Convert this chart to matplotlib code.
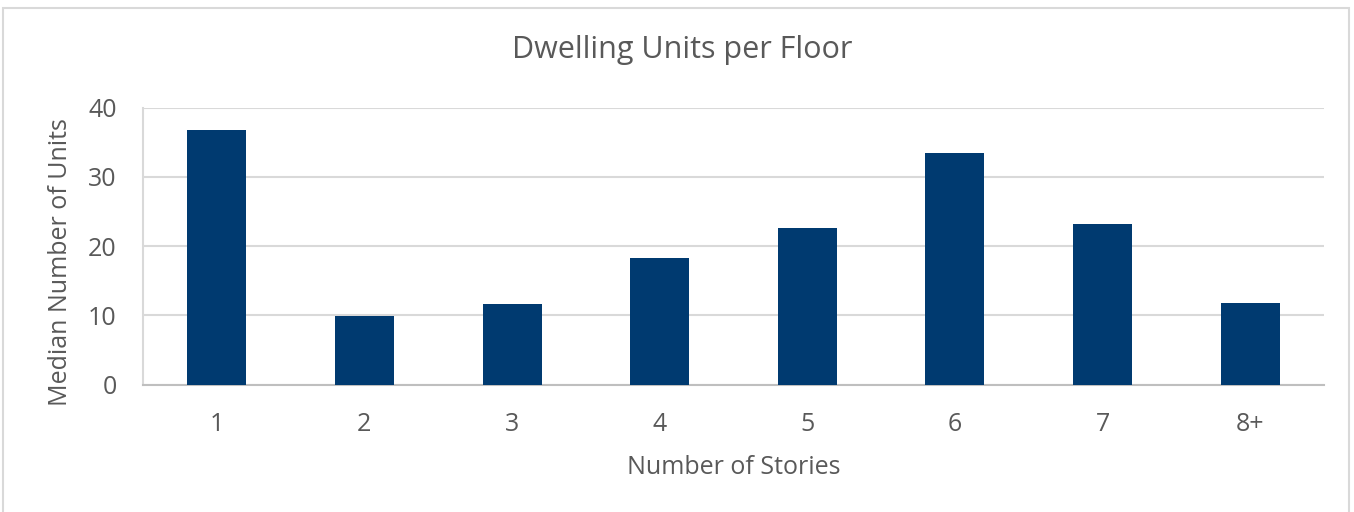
import matplotlib.pyplot as plt
from matplotlib.patches import Rectangle

stories = ['1', '2', '3', '4', '5', '6', '7', '8+']
median_units = [36.7, 9.9, 11.6, 18.3, 22.6, 33.5, 23.2, 11.8]

plt.rcParams['font.family'] = ['Open Sans', 'DejaVu Sans']
text_color = '#595959'
W, H = 1354, 512

fig = plt.figure(figsize=(W / 100, H / 100), dpi=100)
fig.patch.set_facecolor('white')

# chart frame
fig.add_artist(Rectangle((3 / W, -0.05), 1346 / W, 1.05 - 8 / H,
                         transform=fig.transFigure, fill=False,
                         edgecolor='#d9d9d9', linewidth=1.5))

ax = fig.add_axes([143 / W, 1 - 384.5 / H, 1181 / W, 277 / H])
x = range(len(stories))
ax.bar(x, median_units, width=0.4, color='#003a70', zorder=3)

ax.set_xlim(-0.5, len(stories) - 0.5)
ax.set_ylim(0, 40)
ax.set_yticks([0, 10, 20, 30, 40])
ax.set_xticks(list(x))
ax.set_xticklabels(stories)

ax.grid(axis='y', color='#d9d9d9', linewidth=1.5, zorder=0)
for side in ['top', 'right']:
    ax.spines[side].set_visible(False)
ax.spines['left'].set_color('#d9d9d9')
ax.spines['left'].set_linewidth(1.5)
ax.spines['bottom'].set_color('#bfbfbf')
ax.spines['bottom'].set_linewidth(1.5)

ax.tick_params(axis='both', length=0, labelsize=18, colors=text_color)
ax.tick_params(axis='x', pad=20)
ax.tick_params(axis='y', pad=19)

fig.text(682 / W, 1 - 50 / H, 'Dwelling Units per Floor', fontsize=22,
         color=text_color, ha='center', va='center')
fig.text(734 / W, 1 - 467 / H, 'Number of Stories', fontsize=18,
         color=text_color, ha='center', va='center')
fig.text(61 / W, 1 - 262 / H, 'Median Number of Units', fontsize=18,
         color=text_color, ha='center', va='center', rotation=90)

fig.savefig('out.png', dpi=100)
